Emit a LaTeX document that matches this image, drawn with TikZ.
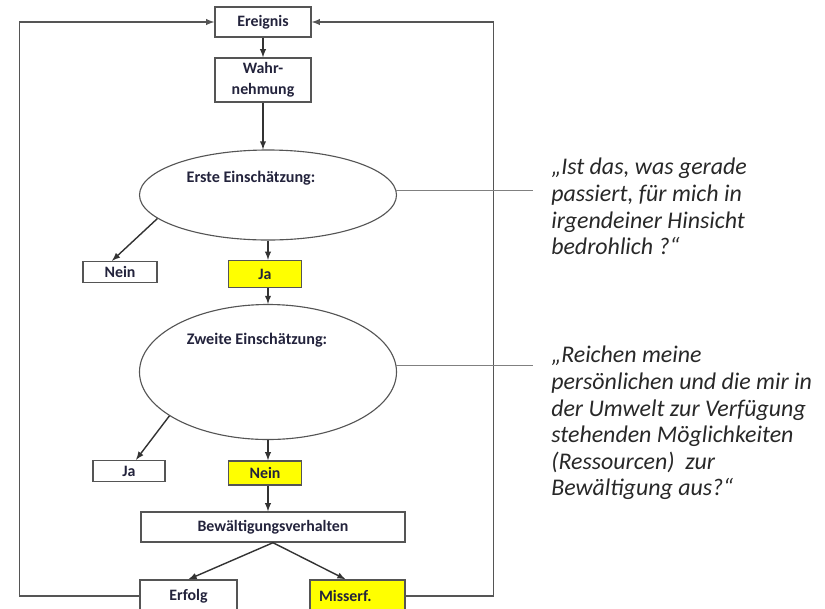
\documentclass[tikz,border=0pt]{standalone}
\usepackage{fontspec}
\setmainfont{Carlito}
\usetikzlibrary{shapes.geometric, arrows}
\definecolor{boxText}{RGB}{35,35,60}
\definecolor{lineGray}{RGB}{85,85,85}
\definecolor{quoteGray}{RGB}{40,40,40}
\definecolor{markYellow}{RGB}{255,255,0}

\begin{document}
\begin{tikzpicture}[node distance=2cm]
	\tikzstyle{box} = [rectangle, minimum height=0.75cm, align=center, 
	inner ysep=1pt, draw=lineGray, line width=1pt, fill=white, text=boxText, 
	font=\fontsize{11.3}{15}\selectfont\bfseries]
	\tikzstyle{hit} = [box, fill=markYellow]
	\tikzstyle{check} = [ellipse, minimum width=6.425cm, draw=lineGray, 
	line width=0.8pt]
	\tikzstyle{checkText} = [text=boxText, font=\fontsize{11.5}{13}\selectfont\bfseries]
	\tikzstyle{quote} = [anchor=north west, inner sep=0pt, align=left, 
	text=quoteGray, font=\fontsize{17}{18.9}\selectfont\itshape]
	\tikzstyle{arrow} = [line width=1pt, draw=black!80, ->, >=latex]
	\tikzstyle{feedback} = [arrow, draw=lineGray]
	\tikzstyle{callout} = [line width=1pt, draw=black!50, shorten >=0.45cm]
	\useasboundingbox (0,0) rectangle (20.625,-15.2);
	\node (ereignis) [box, minimum width=2.4cm] at (6.575,-0.55) {Ereignis};
	\node (wahrnehmung) [box, minimum width=2.4cm, minimum height=1.1cm, 
	below of=ereignis, node distance=1.45cm] {Wahr-\\nehmung};
	\node (ersteEinsch) [check, minimum height=2.25cm, below of=wahrnehmung, 
	node distance=2.875cm, xshift=0.125cm, 
	label={[checkText, below=0.42cm, xshift=-0.425cm]north:{Erste Einschätzung:}}] {};
	\node (jaOne) [hit, minimum width=1.825cm, minimum height=0.675cm, 
	below of=ersteEinsch, node distance=1.975cm, xshift=-0.075cm] {Ja};
	\node (neinOne) [box, minimum width=1.85cm, minimum height=0.525cm, 
	left of=jaOne, node distance=3.625cm, yshift=0.05cm] {Nein};
	\node (zweiteEinsch) [check, minimum height=3.375cm, below of=jaOne, 
	node distance=2.45cm, xshift=0.075cm, 
	label={[checkText, below=0.6cm, xshift=-0.275cm]north:{Zweite Einschätzung:}}] {};
	\node (neinTwo) [hit, minimum width=1.825cm, minimum height=0.6cm, 
	below of=zweiteEinsch, node distance=2.525cm, xshift=-0.075cm] {Nein};
	\node (jaTwo) [box, minimum width=1.8cm, minimum height=0.525cm, 
	left of=neinTwo, node distance=3.4cm, yshift=0.05cm] {Ja};
	\node (bewaeltigung) [box, minimum width=6.6cm, below of=neinTwo, 
	node distance=1.35cm, xshift=0.2cm] {Bewältigungsverhalten};
	\node (erfolg) [box, minimum width=2.425cm, minimum height=0.8cm, 
	below of=bewaeltigung, node distance=1.725cm, xshift=-2.1125cm] {Erfolg};
	\node (misserfolg) [hit, minimum width=2.375cm, minimum height=0.8cm, 
	align=left, text width=1.925cm, inner xsep=0.225cm, 
	below of=bewaeltigung, node distance=1.725cm, xshift=2.1125cm] {Misserf.};
	\node (quoteOne) [quote] at (13.775,-3.95) {„Ist das, was gerade\\passiert, für mich in\\irgendeiner Hinsicht\\bedrohlich ?“};
	\node (quoteTwo) [quote] at (13.775,-8.65) {„Reichen meine\\persönlichen und die mir in\\der Umwelt zur Verfügung\\stehenden Möglichkeiten\\(Ressourcen)\ \ zur\\Bewältigung aus?“};
	\draw [arrow] (ereignis) -- (wahrnehmung);
	\draw [arrow] (wahrnehmung.south) -- (wahrnehmung.south |- ersteEinsch.north);
	\draw [arrow] (ersteEinsch.south) -- (ersteEinsch.south |- jaOne.north);
	\draw [arrow] (ersteEinsch.192) -- ([xshift=-0.2cm]neinOne.north);
	\draw [arrow] (zweiteEinsch.north |- jaOne.south) -- (zweiteEinsch.north);
	\draw [arrow] (zweiteEinsch.south) -- (zweiteEinsch.south |- neinTwo.north);
	\draw [arrow] (zweiteEinsch.204) -- ([xshift=0.175cm]jaTwo.north);
	\draw [arrow] (zweiteEinsch.south |- neinTwo.south) -- (zweiteEinsch.south |- bewaeltigung.north);
	\draw [arrow] (bewaeltigung.south) -- (erfolg.north);
	\draw [arrow] (bewaeltigung.south) -- ([xshift=-0.3cm]misserfolg.north);
	\draw [feedback] (erfolg.west) -- ++(-3,0) |- (ereignis.west);
	\draw [feedback] (misserfolg.east) -- ++(2.2,0) |- (ereignis.east);
	\draw [callout] (ersteEinsch.2) -- (ersteEinsch.2 -| quoteOne.west);
	\draw [callout] (zweiteEinsch.3) -- (zweiteEinsch.3 -| quoteTwo.west);
\end{tikzpicture}
\end{document}
